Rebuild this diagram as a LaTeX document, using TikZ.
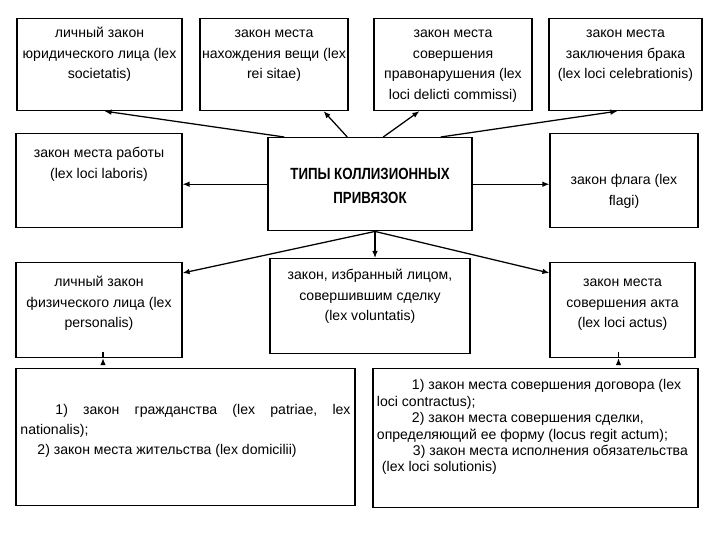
\documentclass[tikz,border=0pt]{standalone}
\usepackage{fontspec}
\setmainfont{Liberation Sans}
\newfontfamily\headfont{Liberation Sans}[FakeStretch=0.82]
\usetikzlibrary{arrows.meta, positioning, calc}
% box height, box width, first baseline below top, lines
\newcommand{\celltext}[4]{\parbox[t][#1][t]{#2}{\centering\rule{0pt}{#3}#4}}

\begin{document}
\begin{tikzpicture}[x=0.025cm, y=-0.025cm,
  box/.style={draw, line width=0.8pt, anchor=north, inner sep=0pt,
    font=\fontsize{10}{14.9}\selectfont},
  arr/.style={-{Latex[length=5pt, width=4pt]}, line width=0.9pt}]
  \useasboundingbox (0,0) rectangle (720,540);
  % --- top row -----------------------------------------------------
  \node[box] (soc) at (99.5,18)
    {\celltext{2.3cm}{4.125cm}{0.4625cm}{личный закон\\ юридического лица (lex\\ societatis)}};
  \node[box] (rei) at (274,18)
    {\celltext{2.3cm}{3.7cm}{0.4625cm}{закон места\\ нахождения вещи (lex\\ rei sitae)}};
  \node[box] (del) at (453,18)
    {\celltext{2.3cm}{3.95cm}{0.4625cm}{закон места\\ совершения\\ правонарушения (lex\\ loci delicti commissi)}};
  \node[box] (cel) at (625.5,18)
    {\celltext{2.3cm}{3.825cm}{0.4625cm}{закон места\\ заключения брака\\ (lex loci celebrationis)}};
  % --- middle row --------------------------------------------------
  \node[box] (lab) at (99,133)
    {\celltext{2.35cm}{4.15cm}{0.5875cm}{закон места работы\\ (lex loci laboris)}};
  \node[box, line width=1pt, font=\headfont\bfseries\fontsize{11.5}{17}\selectfont] (types) at (370,137)
    {\celltext{2.325cm}{5.1cm}{1.05cm}{ТИПЫ КОЛЛИЗИОННЫХ\\ ПРИВЯЗОК}};
  \node[box] (flag) at (624,133)
    {\celltext{2.35cm}{3.7cm}{1.2625cm}{закон флага (lex\\ flagi)}};
  % --- third row ---------------------------------------------------
  \node[box] (pers) at (99,262)
    {\celltext{2.375cm}{4.15cm}{0.5875cm}{личный закон\\ физического лица (lex\\ personalis)}};
  \node[box] (vol) at (370,258)
    {\celltext{2.375cm}{5.0cm}{0.5125cm}{закон, избранный лицом,\\ совершившим сделку\\ (lex voluntatis)}};
  \node[box] (act) at (622.5,262)
    {\celltext{2.375cm}{3.625cm}{0.5875cm}{закон места\\ совершения акта\\ (lex loci actus)}};
  % --- bottom row --------------------------------------------------
  \node[box, line width=1pt, inner xsep=0.1125cm, font=\fontsize{10}{14.2}\selectfont] (nat) at (185.5,368)
    {\parbox[t][3.425cm][t]{8.25cm}{\rule{0pt}{1.15cm}%
     \hspace*{0.875cm}1)\hfill закон\hfill гражданства\hfill (lex\hfill patriae,\hfill lex\\
     nationalis);\\
     \hspace*{0.425cm}2) закон места жительства (lex domicilii)}};
  \node[box, line width=1pt, inner xsep=0.1cm, font=\fontsize{10}{11.7}\selectfont] (contr) at (535.5,368)
    {\parbox[t][3.475cm][t]{7.925cm}{\raggedright\rule{0pt}{0.525cm}%
     \hspace*{0.875cm}1) закон места совершения договора (lex\\
     loci contractus);\\
     \hspace*{0.875cm}2) закон места совершения сделки,\\
     определяющий ее форму (locus regit actum);\\
     \hspace*{0.9cm}3) закон места исполнения обязательства\\
     \hspace*{0.125cm}(lex loci solutionis)}};
  % --- connectors --------------------------------------------------
  \draw[arr] ($(types.north west)+(17,0)$) -- ($(soc.south)+(5,0)$);
  \draw[arr] ($(types.north west)+(80,0)$) -- ($(rei.south east)+(-25,0)$);
  \draw[arr] ($(types.north west)+(116,0)$) -- ($(del.south west)+(46,0)$);
  \draw[arr] ($(types.north east)+(-32,0)$) -- ($(cel.south west)+(69,0)$);
  \draw[arr] (types.west) -- (types.west -| lab.east);
  \draw[arr] (types.east) -- (types.east -| flag.west);
  \coordinate (tb) at ($(types.south)+(5,0)$);
  \draw[arr] (tb) -- ($(pers.north east)+(0,11)$);
  \draw[arr] (tb) -- ($(act.north west)+(0,11)$);
  \draw[arr] (tb) -- (tb |- vol.north);
  \draw[arr] ($(pers.south)+(4,0)$) -- ($(pers.south)+(4,0)$ |- nat.north);
  \draw[arr] ($(act.south)+(-4,0)$) -- ($(act.south)+(-4,0)$ |- contr.north);
\end{tikzpicture}
\end{document}
